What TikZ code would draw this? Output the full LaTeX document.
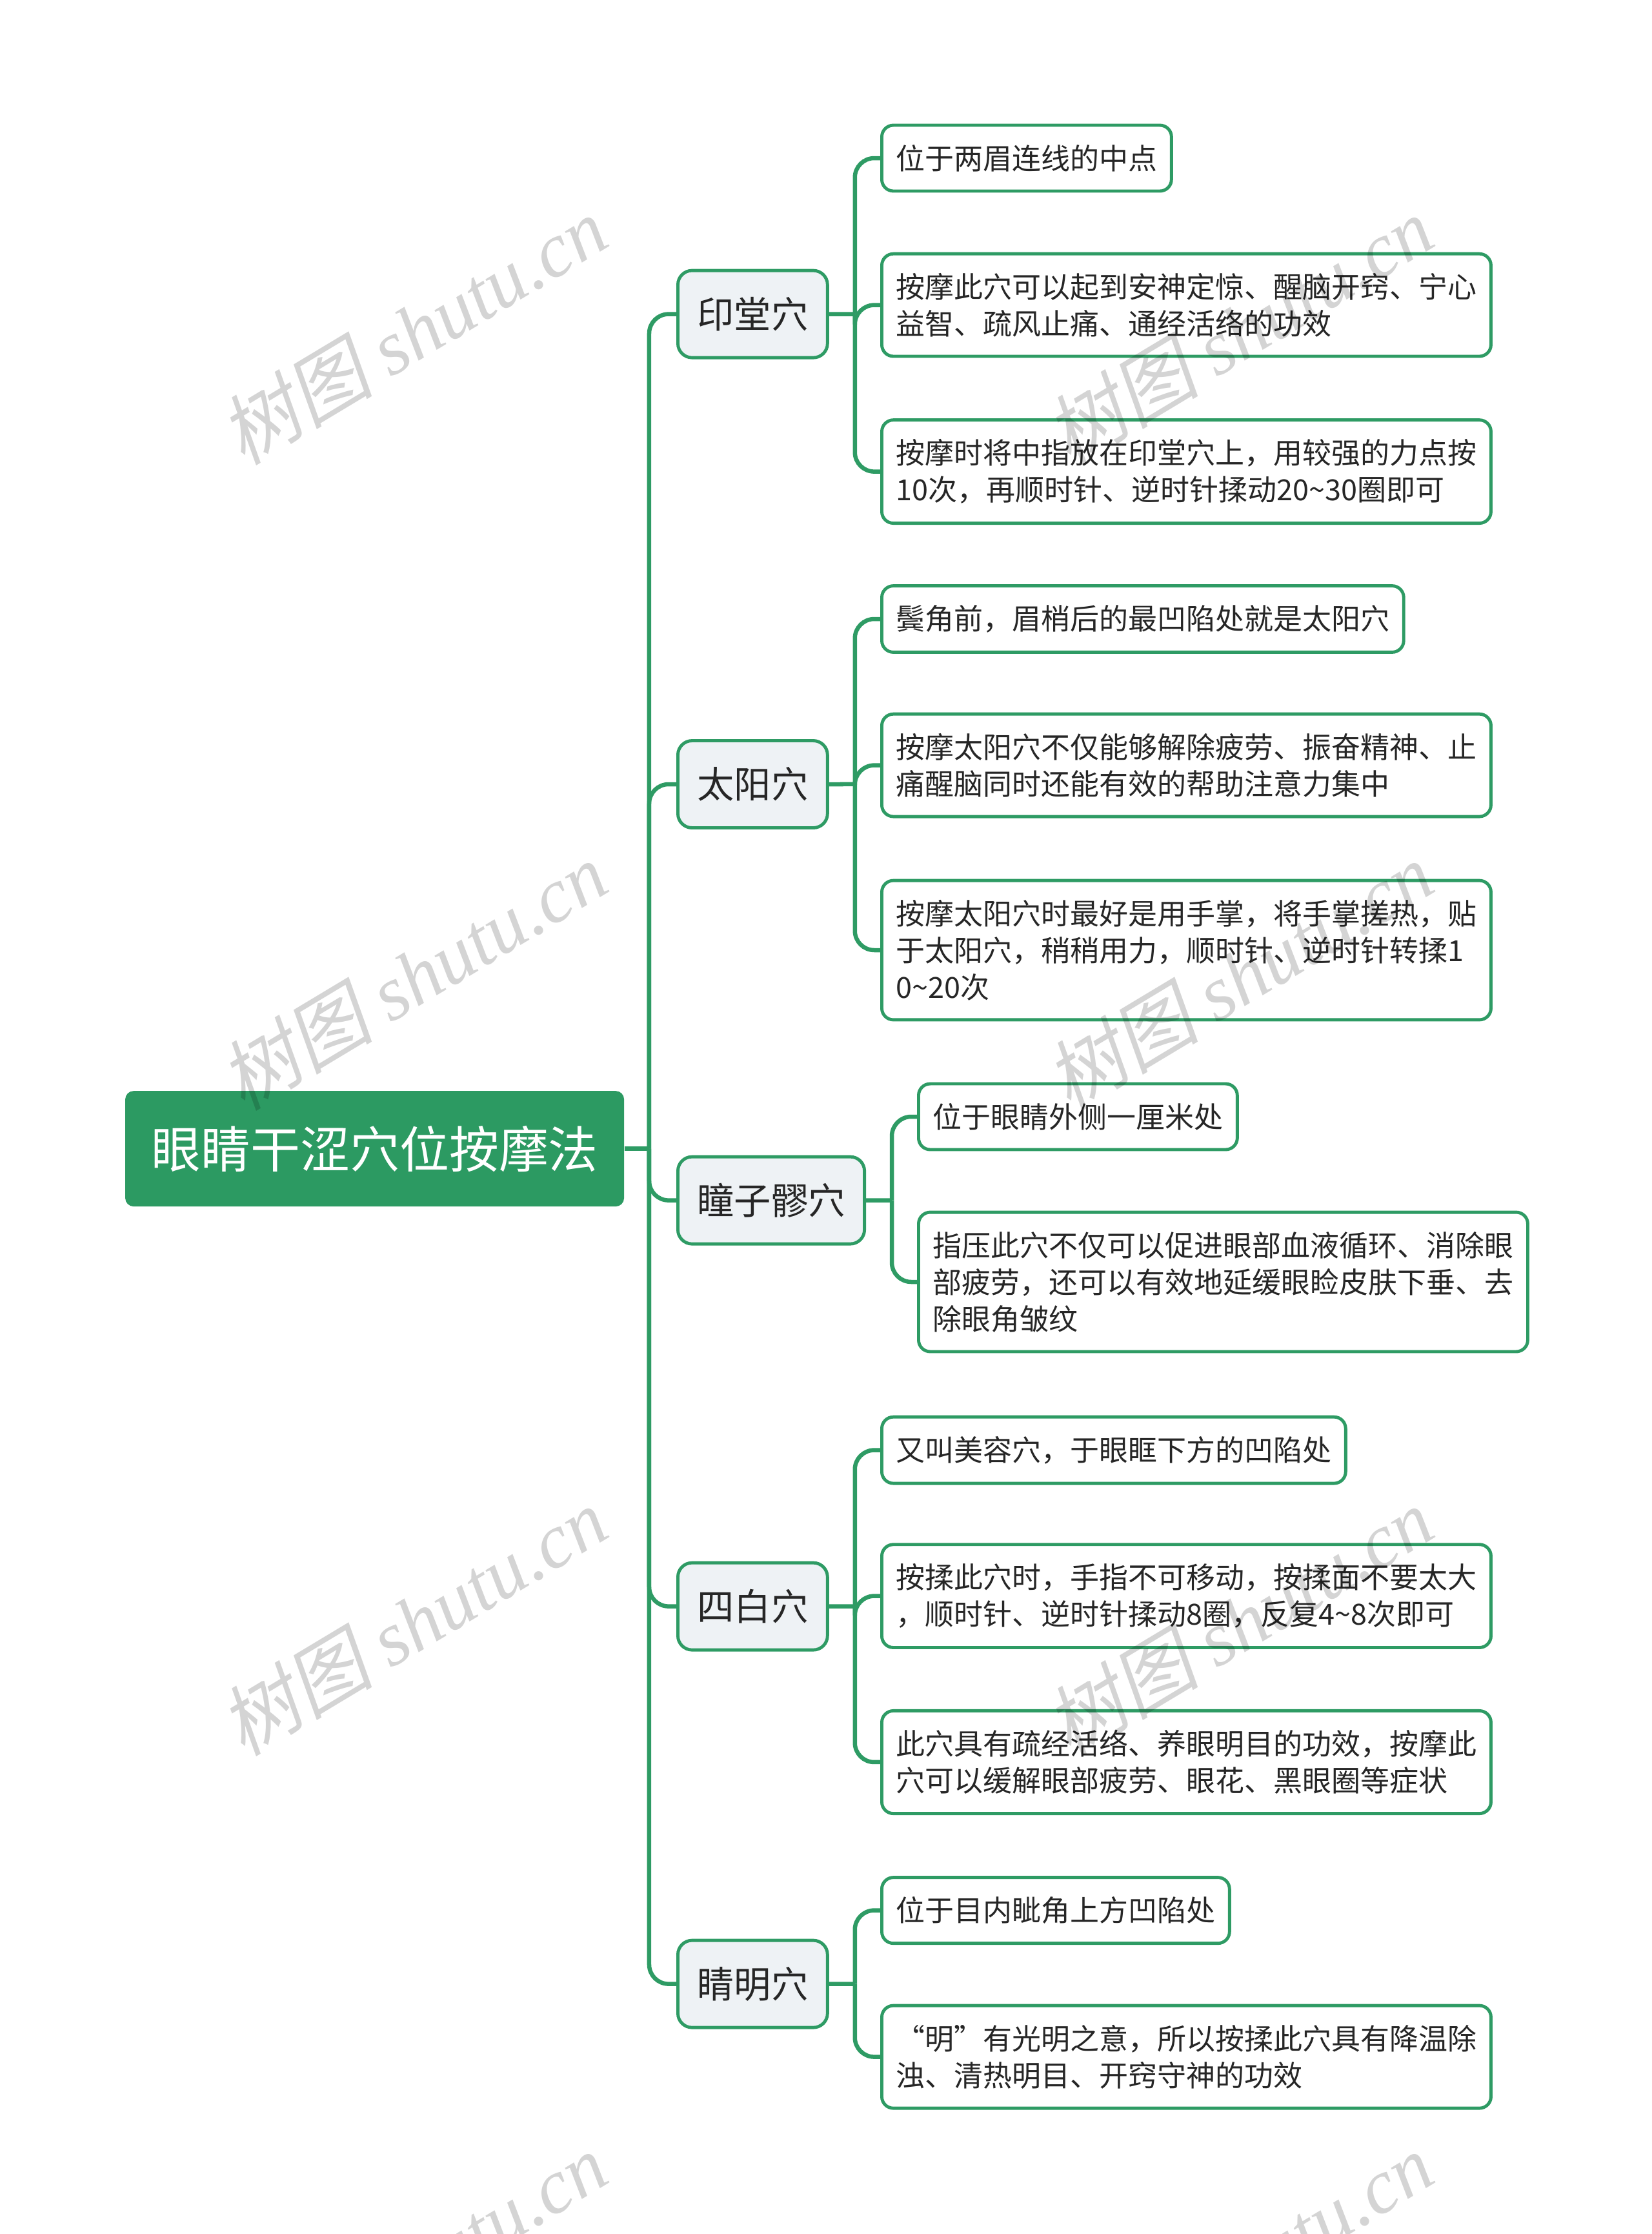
\documentclass[tikz,border=0pt]{standalone}
\usepackage{fontspec}
\setmainfont{Noto Sans CJK SC}
\newfontfamily\wmlatin{Liberation Serif}
\newfontfamily\wmcjk[FakeSlant=0.2]{Noto Sans CJK SC}
\usepackage{tikz}
\definecolor{linegreen}{HTML}{2E9B64}
\definecolor{rootgreen}{HTML}{2C9A62}
\definecolor{topicgray}{HTML}{EEF2F5}
\definecolor{inkgray}{HTML}{262626}
\definecolor{markgray}{HTML}{D4D4D4}

\begin{document}
\begin{tikzpicture}[scale=0.2]
				\tikzstyle{every node}+=[inner sep=0pt]
				\tikzstyle{rootbox}=[rectangle, rounded corners=0.13cm, fill=rootgreen, text=white, minimum width=7.73cm, minimum height=1.79cm, font=\fontsize{21.9pt}{26pt}\selectfont]
				\tikzstyle{topic}=[rectangle, rounded corners=0.22cm, draw=linegreen, line width=1.4pt, fill=topicgray, text=inkgray, anchor=west, inner xsep=0.3cm, minimum height=1.35cm, font=\fontsize{16.3pt}{20pt}\selectfont]
				\tikzstyle{leaf}=[rectangle, rounded corners=0.18cm, draw=linegreen, line width=1.4pt, fill=white, text=inkgray, anchor=west, inner xsep=0.22cm, inner ysep=0.3cm, minimum height=1.02cm, align=left, font=\fontsize{12.8pt}{16.2pt}\selectfont]
				\tikzstyle{wideleaf}=[leaf, text width=9cm]
				\tikzstyle{link}=[draw=linegreen, line width=1.85pt, rounded corners=0.3cm]
				\tikzstyle{wmark}=[text=markgray, rotate=31, font=\fontsize{34pt}{34pt}\selectfont]
				\useasboundingbox (0,0) rectangle (128,-173.05);
				\node[rootbox] (root) at (29.03,-88.98) {眼睛干涩穴位按摩法};
				\node[topic] (ytx) at (52.4,-24.33) {印堂穴};
				\node[topic] (tyx) at (52.4,-60.75) {太阳穴};
				\node[topic] (tzl) at (52.4,-92.98) {瞳子髎穴};
				\node[topic] (sbx) at (52.4,-124.43) {四白穴};
				\node[topic] (jmx) at (52.4,-153.68) {睛明穴};
				\node[leaf] (yt1) at (68.2,-12.25) {位于两眉连线的中点};
				\node[wideleaf] (yt2) at (68.2,-23.63) {按摩此穴可以起到安神定惊、醒脑开窍、宁心\\益智、疏风止痛、通经活络的功效};
				\node[wideleaf] (yt3) at (68.2,-36.53) {按摩时将中指放在印堂穴上，用较强的力点按\\10次，再顺时针、逆时针揉动20\textasciitilde30圈即可};
				\node[leaf] (ty1) at (68.2,-47.95) {鬓角前，眉梢后的最凹陷处就是太阳穴};
				\node[wideleaf] (ty2) at (68.2,-59.28) {按摩太阳穴不仅能够解除疲劳、振奋精神、止\\痛醒脑同时还能有效的帮助注意力集中};
				\node[wideleaf] (ty3) at (68.2,-73.6) {按摩太阳穴时最好是用手掌，将手掌搓热，贴\\于太阳穴，稍稍用力，顺时针、逆时针转揉1\\0\textasciitilde20次};
				\node[leaf] (tz1) at (71.05,-86.5) {位于眼睛外侧一厘米处};
				\node[wideleaf] (tz2) at (71.05,-99.3) {指压此穴不仅可以促进眼部血液循环、消除眼\\部疲劳，还可以有效地延缓眼睑皮肤下垂、去\\除眼角皱纹};
				\node[leaf] (sb1) at (68.2,-112.33) {又叫美容穴，于眼眶下方的凹陷处};
				\node[wideleaf] (sb2) at (68.2,-123.63) {按揉此穴时，手指不可移动，按揉面不要太大\\，顺时针、逆时针揉动8圈，反复4\textasciitilde8次即可};
				\node[wideleaf] (sb3) at (68.2,-136.5) {此穴具有疏经活络、养眼明目的功效，按摩此\\穴可以缓解眼部疲劳、眼花、黑眼圈等症状};
				\node[leaf] (jm1) at (68.2,-147.98) {位于目内眦角上方凹陷处};
				\node[wideleaf] (jm2) at (68.2,-159.33) {“明”有光明之意，所以按揉此穴具有降温除\\浊、清热明目、开窍守神的功效};
				\coordinate (trunk) at (50.3,-88.98);
				\draw [link] (root.east) -- (trunk);
				\draw [link] (trunk) |- (ytx.west);
				\draw [link] (trunk) |- (tyx.west);
				\draw [link] (trunk) |- (tzl.west);
				\draw [link] (trunk) |- (sbx.west);
				\draw [link] (trunk) |- (jmx.west);
				\coordinate (ytbus) at ([xshift=2cm]ytx.east);
				\draw [link] (ytx.east) -- (ytbus);
				\draw [link] (ytbus) |- (yt1.west);
				\draw [link] (ytbus) |- (yt2.west);
				\draw [link] (ytbus) |- (yt3.west);
				\coordinate (tybus) at ([xshift=2cm]tyx.east);
				\draw [link] (tyx.east) -- (tybus);
				\draw [link] (tybus) |- (ty1.west);
				\draw [link] (tybus) |- (ty2.west);
				\draw [link] (tybus) |- (ty3.west);
				\coordinate (tzbus) at ([xshift=2cm]tzl.east);
				\draw [link] (tzl.east) -- (tzbus);
				\draw [link] (tzbus) |- (tz1.west);
				\draw [link] (tzbus) |- (tz2.west);
				\coordinate (sbbus) at ([xshift=2cm]sbx.east);
				\draw [link] (sbx.east) -- (sbbus);
				\draw [link] (sbbus) |- (sb1.west);
				\draw [link] (sbbus) |- (sb2.west);
				\draw [link] (sbbus) |- (sb3.west);
				\coordinate (jmbus) at ([xshift=2cm]jmx.east);
				\draw [link] (jmx.east) -- (jmbus);
				\draw [link] (jmbus) |- (jm1.west);
				\draw [link] (jmbus) |- (jm2.west);
				\begin{scope}[blend mode=multiply]
				\node[wmark] (wm1) at (32,-25.6) {{\wmcjk 树图} {\wmlatin\itshape shutu.cn}};
				\node[wmark] (wm2) at (32,-75.6) {{\wmcjk 树图} {\wmlatin\itshape shutu.cn}};
				\node[wmark] (wm3) at (32,-125.6) {{\wmcjk 树图} {\wmlatin\itshape shutu.cn}};
				\node[wmark] (wm4) at (32,-175.6) {{\wmcjk 树图} {\wmlatin\itshape shutu.cn}};
				\node[wmark] (wm5) at (96,-25.6) {{\wmcjk 树图} {\wmlatin\itshape shutu.cn}};
				\node[wmark] (wm6) at (96,-75.6) {{\wmcjk 树图} {\wmlatin\itshape shutu.cn}};
				\node[wmark] (wm7) at (96,-125.6) {{\wmcjk 树图} {\wmlatin\itshape shutu.cn}};
				\node[wmark] (wm8) at (96,-175.6) {{\wmcjk 树图} {\wmlatin\itshape shutu.cn}};
				\end{scope}
			\end{tikzpicture}
\end{document}
